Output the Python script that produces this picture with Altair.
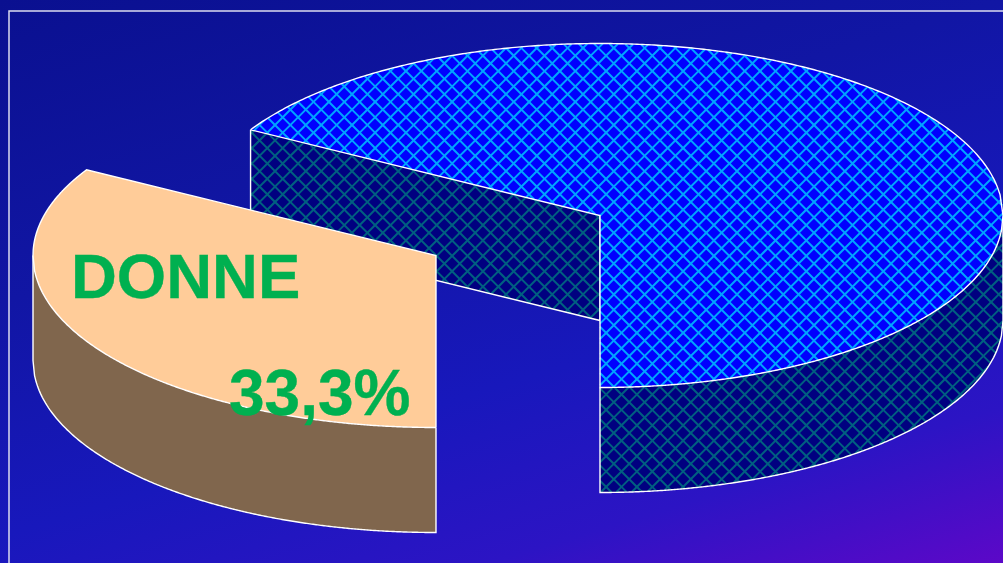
import numpy as np
import pandas as pd
import altair as alt

# Pie values and their labels
shares = [66.7, 33.3]
label_name = "DONNE"

W, H = 1003, 563

# Pie projection
RX, RY = 403.0, 172.0
DEPTH = 105.0
CX, CY = 600.0, 215.5
OFF_X, OFF_Y = -164.0, 40.0
HATCH_PERIOD = 15.4
HATCH_NODE = (660.0, 202.0)

# The pulled-out slice ends at the bottom of the ellipse and runs clockwise
sweep = shares[1] / sum(shares) * 360.0
END_DEG = 270.0
START_DEG = END_DEG - sweep
tip_dx = RX * np.cos(np.radians(START_DEG))
tip_dy = -RY * np.sin(np.radians(START_DEG))


def upper(x, cx, cy):
    return cy - RY * np.sqrt(np.clip(1 - ((x - cx) / RX) ** 2, 0, 1))


def lower(x, cx, cy):
    return cy + RY * np.sqrt(np.clip(1 - ((x - cx) / RX) ** 2, 0, 1))


def edge(x, cx, cy):
    return cy + (x - cx) * tip_dy / tip_dx


def eq_grid(a, b):
    return np.linspace(a, b, 260)


# Main slice: top face, inner wall, outer rim
main_x = np.concatenate([eq_grid(CX + tip_dx, CX), eq_grid(CX, CX + RX)])
main_top = upper(main_x, CX, CY)
main_low = np.concatenate([
    edge(eq_grid(CX + tip_dx, CX), CX, CY),
    lower(eq_grid(CX, CX + RX), CX, CY),
])
main_face = pd.DataFrame({"x": main_x, "y": main_top, "yb": main_low})

wall_x = eq_grid(CX + tip_dx, CX)
main_wall = pd.DataFrame({
    "x": wall_x,
    "y": edge(wall_x, CX, CY),
    "yb": edge(wall_x, CX, CY) + DEPTH,
})

rim_x = eq_grid(CX, CX + RX)
main_rim = pd.DataFrame({
    "x": rim_x,
    "y": lower(rim_x, CX, CY),
    "yb": lower(rim_x, CX, CY) + DEPTH,
})

# Pulled-out slice: top face and outer rim
PX, PY = CX + OFF_X, CY + OFF_Y
arc_x = eq_grid(PX - RX, PX + tip_dx)
flat_x = eq_grid(PX + tip_dx, PX)
slice_x = np.concatenate([arc_x, flat_x])
slice_top = np.concatenate([upper(arc_x, PX, PY), edge(flat_x, PX, PY)])
slice_face = pd.DataFrame({"x": slice_x, "y": slice_top, "yb": lower(slice_x, PX, PY)})

srim_x = eq_grid(PX - RX, PX)
slice_rim = pd.DataFrame({
    "x": srim_x,
    "y": lower(srim_x, PX, PY),
    "yb": lower(srim_x, PX, PY) + DEPTH,
})


def in_face(x, y):
    inside = ((x - CX) / RX) ** 2 + ((y - CY) / RY) ** 2 <= 1
    return inside & ((x >= CX) | (y <= edge(x, CX, CY)))


def in_wall(x, y):
    return (x >= CX + tip_dx) & (x <= CX) & (y >= edge(x, CX, CY)) & (y <= edge(x, CX, CY) + DEPTH)


def in_rim(x, y):
    return (x >= CX) & (x <= CX + RX) & (y >= lower(x, CX, CY)) & (y <= lower(x, CX, CY) + DEPTH)


def hatch(mask):
    # Two families of diagonal strokes through a common node, trimmed to the region
    rows = []
    px = np.arange(0, W + 0.25, 0.25)
    nx, ny = HATCH_NODE
    for sign in (1, -1):
        base = ny - sign * nx
        for k in range(-140, 140):
            py = sign * px + base + k * HATCH_PERIOD
            keep = mask(px, py)
            if not keep.any():
                continue
            idx = np.flatnonzero(keep)
            runs = np.split(idx, np.flatnonzero(np.diff(idx) > 1) + 1)
            for run in runs:
                rows.append({
                    "x": px[run[0]], "y": py[run[0]],
                    "xe": px[run[-1]], "ye": py[run[-1]],
                })
    return pd.DataFrame(rows)


x_enc = alt.X("x:Q", scale=alt.Scale(domain=[0, W], nice=False, zero=False), axis=None)
y_enc = alt.Y("y:Q", scale=alt.Scale(domain=[H, 0], nice=False, zero=False), axis=None)


def filled(df, color):
    return alt.Chart(df).mark_area(fill=color, stroke=None, fillOpacity=1, orient="vertical").encode(
        x=x_enc, y=y_enc, y2=alt.Y2("yb:Q")
    )


def strokes(df, color, width):
    return alt.Chart(df).mark_rule(color=color, strokeWidth=width).encode(
        x=x_enc, y=y_enc, x2=alt.X2("xe:Q"), y2=alt.Y2("ye:Q")
    )


def outline(xv, yv, width=1.4, color="#ffffff"):
    df = pd.DataFrame({"x": xv, "y": yv, "i": range(len(xv))})
    return alt.Chart(df).mark_line(color=color, strokeWidth=width).encode(
        x=x_enc, y=y_enc, order=alt.Order("i:Q")
    )


backdrop = alt.Chart(pd.DataFrame({"x": [0], "xe": [W], "y": [0], "ye": [H]})).mark_rect(
    fill=alt.LinearGradient(
        gradient="linear",
        x1=0, y1=0, x2=0.642, y2=1.193,
        stops=[
            alt.GradientStop(offset=0.0, color="#0a1090"),
            alt.GradientStop(offset=0.35, color="#1116a4"),
            alt.GradientStop(offset=0.62, color="#1818bc"),
            alt.GradientStop(offset=0.82, color="#2c14c4"),
            alt.GradientStop(offset=1.0, color="#5c08c8"),
        ],
    )
).encode(x=x_enc, y=y_enc, x2=alt.X2("xe:Q"), y2=alt.Y2("ye:Q"))

frame = outline(np.array([9.0, 9.0, W]), np.array([H, 11.0, 11.0]), width=1.5, color="#dcdcf0")

HATCH_BRIGHT = "#00a4ff"
HATCH_DARK = "#006080"
FILL_BRIGHT = "#0000ff"
FILL_DARK = "#000080"
PEACH = "#ffcc99"
PEACH_SIDE = "#80664d"
TEXT_GREEN = "#00b050"

# Outline paths
face_arc = eq_grid(CX + tip_dx, CX + RX)
face_arc2 = eq_grid(CX + RX, CX)
main_outline = outline(
    np.concatenate([face_arc, face_arc2, [CX, CX + tip_dx]]),
    np.concatenate([upper(face_arc, CX, CY), lower(face_arc2, CX, CY), [CY, CY + tip_dy]]),
)
wall_outline = outline(
    np.array([CX + tip_dx, CX + tip_dx, CX, CX]),
    np.array([CY + tip_dy, CY + tip_dy + DEPTH, CY + DEPTH, CY]),
)
rim_outline = outline(
    np.concatenate([[CX], eq_grid(CX, CX + RX), [CX + RX]]),
    np.concatenate([[lower(CX, CX, CY)], lower(eq_grid(CX, CX + RX), CX, CY) + DEPTH, [CY]]),
)

sa = eq_grid(PX - RX, PX + tip_dx)
sb = eq_grid(PX - RX, PX)
slice_outline = outline(
    np.concatenate([sb[::-1], sa, [PX, PX]]),
    np.concatenate([lower(sb, PX, PY)[::-1], upper(sa, PX, PY), [PY, PY + RY]]),
)
srim_outline = outline(
    np.concatenate([[PX, PX], sb[::-1], [PX - RX]]),
    np.concatenate([[PY + RY, PY + RY + DEPTH], lower(sb, PX, PY)[::-1] + DEPTH, [PY]]),
)


def caption(text, x, y, size):
    df = pd.DataFrame({"x": [x], "y": [y], "t": [text]})
    return alt.Chart(df).mark_text(
        font="Liberation Sans", fontWeight="bold", fontSize=size,
        align="left", baseline="alphabetic", color=TEXT_GREEN,
        stroke=TEXT_GREEN, strokeWidth=0.35,
    ).encode(x=x_enc, y=y_enc, text="t:N")


value_text = f"{shares[1]:.1f}%".replace(".", ",")

chart = alt.layer(
    backdrop,
    frame,
    filled(main_wall, FILL_DARK),
    strokes(hatch(in_wall), HATCH_DARK, 2.0),
    wall_outline,
    filled(main_rim, FILL_DARK),
    strokes(hatch(in_rim), HATCH_DARK, 2.0),
    rim_outline,
    filled(main_face, FILL_BRIGHT),
    strokes(hatch(in_face), HATCH_BRIGHT, 2.0),
    main_outline,
    filled(slice_rim, PEACH_SIDE),
    srim_outline,
    filled(slice_face, PEACH),
    slice_outline,
    caption(label_name, 71, 298, 63.5),
    caption(value_text, 229, 415, 64),
).properties(
    width=W, height=H, padding=0,
    autosize=alt.AutoSizeParams(type="none"),
).configure_view(stroke=None)

chart.save("out.html", embed_options={"renderer": "svg", "actions": False})
